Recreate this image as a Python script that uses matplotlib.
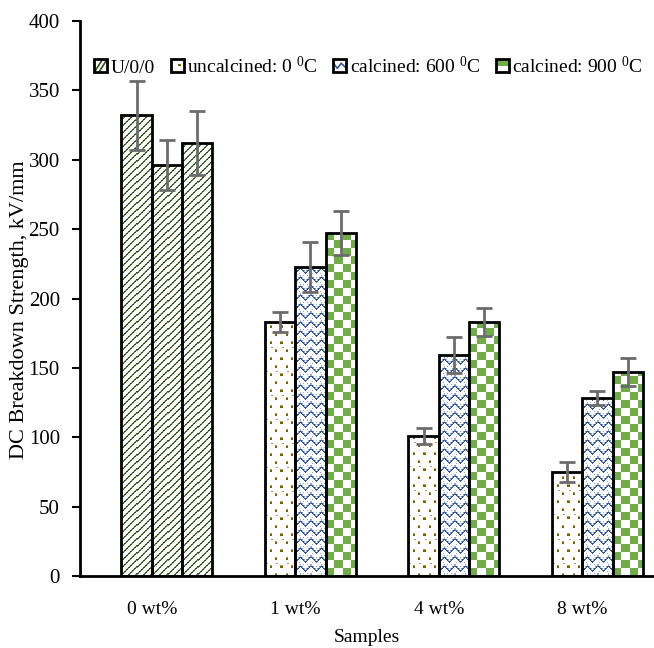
import numpy as np
import matplotlib
matplotlib.use("Agg")
import matplotlib.pyplot as plt
from matplotlib.patches import Rectangle
from matplotlib.lines import Line2D
from matplotlib.legend_handler import HandlerBase
from matplotlib.colors import to_rgb

plt.rcParams['font.family'] = ['Liberation Serif', 'DejaVu Serif']
plt.rcParams['mathtext.fontset'] = 'custom'
plt.rcParams['mathtext.rm'] = 'Liberation Serif'
plt.rcParams['mathtext.it'] = 'Liberation Serif'
plt.rcParams['mathtext.bf'] = 'Liberation Serif'

# ---------------- data ----------------
categories = ["0 wt%", "1 wt%", "4 wt%", "8 wt%"]
series_names = ["U/0/0", "uncalcined: 0 $^{\\mathrm{0}}$C",
                "calcined: 600 $^{\\mathrm{0}}$C", "calcined: 900 $^{\\mathrm{0}}$C"]
# three bars per group (slot 1..3 of a 4-slot group)
bar1_vals = [332, 183, 101, 75]
bar1_errs = [25, 7, 6, 7]
bar2_vals = [296, 223, 159, 128]
bar2_errs = [18, 18, 13, 5]
bar3_vals = [312, 247, 183, 147]
bar3_errs = [23, 16, 10, 10]
yticks = [0, 50, 100, 150, 200, 250, 300, 350, 400]

# pattern colours
C_DIAG_D, C_DIAG_L = '#2f4f1c', '#6a8a52'
C_DOT_D, C_DOT_L = '#7f6000', '#b39a55'
C_ZIG_D, C_ZIG_L = '#2f5597', '#8ea6d6'
C_CHK = '#70ad47'

fig = plt.figure(figsize=(6.54, 6.48), dpi=100)
ax = fig.add_axes([80/654, 1-576/648, 574/654, 555/648])
ax.set_xlim(-0.5, 3.5)
ax.set_ylim(0, 400)

x = np.arange(len(categories))
bw = 0.211
offsets = [-bw/2, bw/2, 3*bw/2]

p0 = ax.transData.transform([0, 0])
p1 = ax.transData.transform([1, 1])
ppx, ppy = p1[0]-p0[0], p1[1]-p0[1]


def canvas(h, w):
    img = np.ones((h, w, 3))
    r, c = np.indices((h, w))
    return img, r, c


def tex_diag(h, w):
    img, r, c = canvas(h, w)
    k = (r - c) % 7
    img[(k == 0) & (c % 2 == 0)] = to_rgb(C_DIAG_D)
    img[(k == 0) & (c % 2 == 1)] = to_rgb(C_DIAG_L)
    img[(k == 1) & (c % 2 == 1)] = to_rgb(C_DIAG_D)
    img[(k == 1) & (c % 2 == 0)] = to_rgb(C_DIAG_L)
    return img


def tex_dots(h, w):
    img, r, c = canvas(h, w)
    row = r // 8
    cc = (c + (row % 2) * 5) % 10
    rr = r % 8
    img[(rr < 2) & (cc < 2)] = to_rgb(C_DOT_D)
    img[(rr == 2) & (cc < 2)] = to_rgb(C_DOT_L)
    img[(rr == 4) & (cc >= 6) & (cc < 8) & (row % 3 == 1)] = to_rgb(C_DOT_L)
    return img


def tex_zig(h, w):
    img, r, c = canvas(h, w)
    yoff = np.abs((c % 10) - 5)
    k = (r + yoff) % 9
    img[k == 0] = to_rgb(C_ZIG_D)
    img[(k == 1) & (c % 2 == 0)] = to_rgb(C_ZIG_D)
    img[(k == 1) & (c % 2 == 1)] = to_rgb(C_ZIG_L)
    img[(k == 2) & (c % 2 == 1)] = to_rgb(C_ZIG_L)
    img[(k == 5) & (c % 4 == 0)] = to_rgb(C_ZIG_L)
    return img


def tex_chk(h, w):
    img, r, c = canvas(h, w)
    m = ((r // 8) + (c // 8)) % 2 == 0
    img[m] = to_rgb(C_CHK)
    return img


def fill_texture(bars, texfuncs):
    for patch, f in zip(bars.patches, texfuncs):
        x0, w, hgt = patch.get_x(), patch.get_width(), patch.get_height()
        wp = max(int(round(w*ppx)), 1)
        hp = max(int(round(hgt*ppy)), 1)
        img = f(hp, wp)
        im = ax.imshow(img, extent=[x0, x0+w, 0, hgt], origin='lower',
                       interpolation='nearest', aspect='auto', zorder=2)
        im.set_clip_path(patch)


vals = [bar1_vals, bar2_vals, bar3_vals]
errs = [bar1_errs, bar2_errs, bar3_errs]
texsets = [
    [tex_diag, tex_dots, tex_dots, tex_dots],
    [tex_diag, tex_zig, tex_zig, tex_zig],
    [tex_diag, tex_chk, tex_chk, tex_chk],
]
for v, e, off, tx in zip(vals, errs, offsets, texsets):
    b = ax.bar(x + off, v, width=bw, facecolor='none', edgecolor='black',
               linewidth=2, zorder=3)
    fill_texture(b, tx)
    ax.errorbar(x + off, v, yerr=e, fmt='none', ecolor='#6b6b6b',
                elinewidth=2, capsize=5.5, capthick=2, zorder=4)

ax.set_xlim(-0.5, 3.5)
ax.set_ylim(0, 400)
ax.set_yticks(yticks)
ax.set_xticks(x)
ax.set_xticklabels(categories, fontsize=14)
ax.tick_params(axis='x', length=0, pad=18)
ax.tick_params(axis='y', direction='out', length=6, width=1.5, labelsize=15, pad=8.5)
for s in ['top', 'right']:
    ax.spines[s].set_visible(False)
ax.spines['left'].set_linewidth(2)
ax.spines['bottom'].set_linewidth(2)
ax.set_xlabel("Samples", fontsize=14, labelpad=8)
ax.set_ylabel("DC Breakdown Strength, kV/mm", fontsize=16)
ax.yaxis.set_label_coords(-0.089, 0.48)


class PatternHandler(HandlerBase):
    def __init__(self, kind):
        super().__init__()
        self.kind = kind

    def create_artists(self, legend, orig_handle, xdescent, ydescent, width,
                       height, fontsize, trans):
        s = min(width, height) * 0.95
        x0 = -xdescent + (width - s) / 2
        y0 = -ydescent + (height - s) / 2
        arts = [Rectangle((x0, y0), s, s, facecolor='white', edgecolor='none',
                          transform=trans)]
        if self.kind == 'diag':
            for t in (0.25, 0.6):
                arts.append(Line2D([x0 + s*t - s*0.25, x0 + s*t + s*0.35],
                                   [y0, y0 + s*0.95], color=C_DIAG_D,
                                   lw=1.2, transform=trans))
        elif self.kind == 'dots':
            arts.append(Rectangle((x0 + s*0.55, y0 + s*0.45), s*0.22, s*0.22,
                                  facecolor=C_DOT_D, edgecolor='none',
                                  transform=trans))
        elif self.kind == 'zig':
            arts.append(Line2D([x0, x0+s*0.3, x0+s*0.6, x0+s],
                               [y0+s*0.7, y0+s*0.3, y0+s*0.7, y0+s*0.3],
                               color=C_ZIG_D, lw=1.2, transform=trans))
        elif self.kind == 'chk':
            arts.append(Rectangle((x0, y0 + s/2), s, s/2, facecolor=C_CHK,
                                  edgecolor='none', transform=trans))
        arts.append(Rectangle((x0, y0), s, s, facecolor='none',
                              edgecolor='black', lw=2, transform=trans))
        return arts


handles = [Rectangle((0, 0), 1, 1) for _ in range(4)]
kinds = ['diag', 'dots', 'zig', 'chk']
hmap = {h: PatternHandler(k) for h, k in zip(handles, kinds)}
leg = fig.legend(handles, series_names, handler_map=hmap, ncol=4,
                 loc='center left', bbox_to_anchor=(94/654, 1-66/648),
                 frameon=False, fontsize=14, handlelength=0.7,
                 handleheight=0.7, handletextpad=0.15, columnspacing=0.8,
                 borderpad=0, borderaxespad=0)

fig.savefig("out.png", dpi=100)
